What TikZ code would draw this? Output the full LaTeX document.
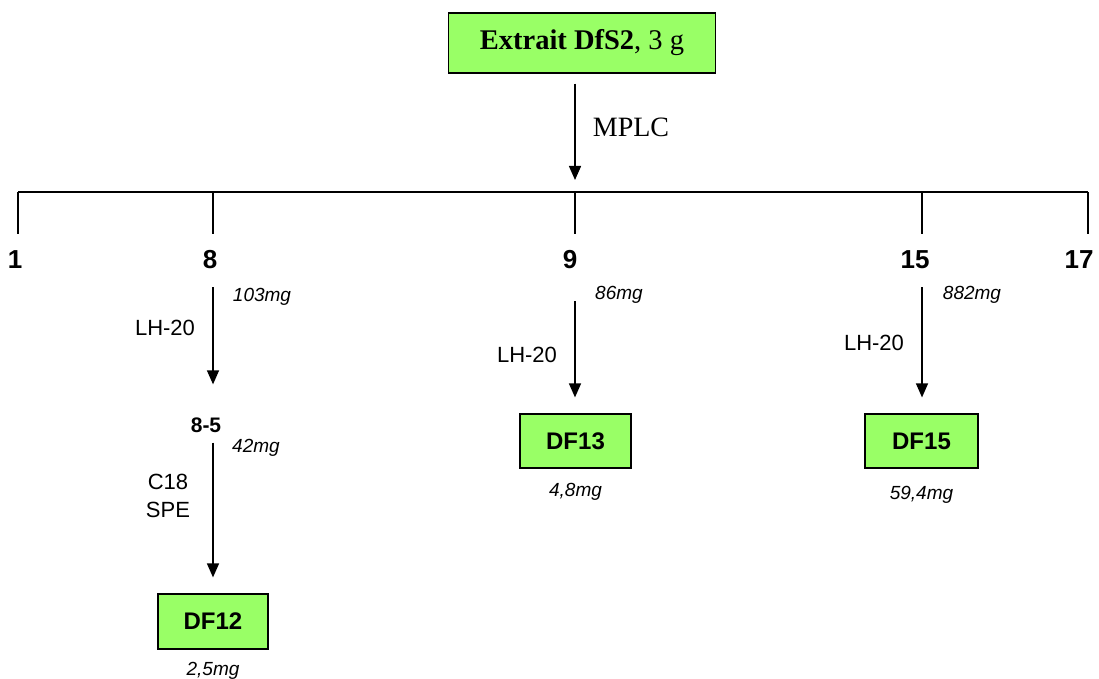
\documentclass[tikz,border=0pt]{standalone}
\usepackage{fontspec}
\setmainfont{Liberation Sans}
\newfontfamily\timesfont{Liberation Serif}
\usetikzlibrary{arrows.meta}
\usetikzlibrary{positioning}
\definecolor{boxgreen}{RGB}{153,255,102}

\begin{document}
\begin{tikzpicture}[x=1pt, y=-1pt,
    flow/.style={draw, line width=1.4pt, -{Triangle[length=14pt, width=12pt]}},
    tick/.style={draw, line width=1.4pt},
    greenbox/.style={draw, fill=boxgreen, line width=1.2pt, inner sep=0pt,
      font=\fontsize{24}{28}\selectfont\bfseries},
    fraction/.style={inner sep=0pt, font=\fontsize{26}{30}\selectfont\bfseries},
    mass/.style={inner sep=0pt, font=\fontsize{19}{22}\selectfont\itshape},
    method/.style={inner sep=0pt, align=center, font=\fontsize{22}{28}\selectfont}]
  \useasboundingbox (0,0) rectangle (1099,679);
  % Starting extract
  \node[greenbox, minimum width=267pt, minimum height=60pt,
    font=\fontsize{28.5}{32}\selectfont\timesfont] (extrait) at (582,43)
    {\textbf{Extrait DfS2}, 3 g};
  \coordinate (t9) at (575,192);
  \draw[flow, shorten <=10pt, shorten >=12pt] (extrait.south -| t9) -- (t9);
  \node[inner sep=0pt, font=\fontsize{28}{30}\selectfont\timesfont] (mplc)
    at (631,127) {MPLC};
  % MPLC fractions
  \coordinate (t1) at (18,192);
  \coordinate (t8) at (213,192);
  \coordinate (t15) at (922,192);
  \coordinate (t17) at (1088,192);
  \draw[tick] (t1) -- (t17);
  \node[fraction] (f1) at (15,260) {1};
  \node[fraction] (f8) at (210,260) {8};
  \node[fraction] (f9) at (570,260) {9};
  \node[fraction] (f15) at (915,260) {15};
  \node[fraction] (f17) at (1079,260) {17};
  \foreach \t in {1,8,9,15,17}
    \draw[tick] (t\t) -- ([yshift=17pt]t\t |- f\t.north);
  % Fraction 8
  \node[mass] (m8) at (262,297) {103mg};
  \node[method] (lh8) at (165,328) {LH-20};
  \node[fraction, font=\fontsize{21}{24}\selectfont\bfseries] (f85) at (206,425) {8-5};
  \node[mass] (m85) at (256,448) {42mg};
  \draw[flow, shorten <=18pt, shorten >=33pt] (f8.south -| t8) -- (f85.north -| t8);
  \node[method] (c18) at (168,496) {C18\\SPE};
  \node[greenbox, minimum width=110pt, minimum height=55pt] (df12)
    at (213,621.5) {DF12};
  \node[mass, below=12pt of df12] (m12) {2,5mg};
  \draw[flow, shorten <=10pt, shorten >=16pt] (f85.south -| t8) -- (df12.north -| t8);
  % Fraction 9
  \node[mass] (m9) at (619,295) {86mg};
  \node[method] (lh9) at (527,355) {LH-20};
  \node[greenbox, minimum width=111pt, minimum height=54pt] (df13)
    at (575.5,441) {DF13};
  \node[mass, below=14pt of df13] (m13) {4,8mg};
  \draw[flow, shorten <=32pt, shorten >=16pt] (f9.south -| t9) -- (df13.north -| t9);
  % Fraction 15
  \node[mass] (m15) at (972,295) {882mg};
  \node[method] (lh15) at (874,343) {LH-20};
  \node[greenbox, minimum width=113pt, minimum height=54pt] (df15)
    at (921.5,441) {DF15};
  \node[mass, below=17pt of df15] (m1515) {59,4mg};
  \draw[flow, shorten <=18pt, shorten >=16pt] (f15.south -| t15) -- (df15.north -| t15);
\end{tikzpicture}
\end{document}
